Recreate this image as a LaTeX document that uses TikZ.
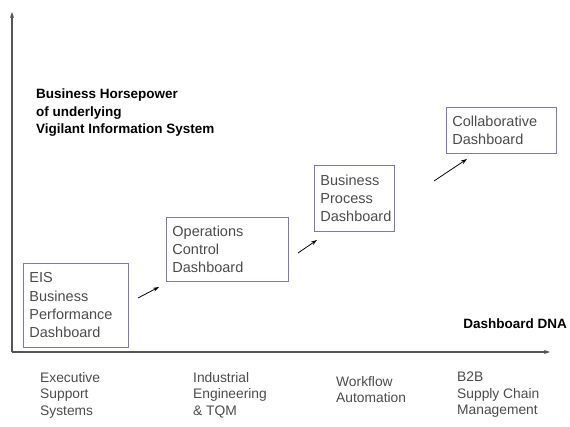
\documentclass[tikz,border=0pt]{standalone}
\usepackage{fontspec}
\setmainfont{Liberation Sans}
\usetikzlibrary{positioning,arrows.meta}

\definecolor{boxline}{RGB}{125,120,175}
\definecolor{txtgray}{RGB}{75,75,75}
\definecolor{axisgray}{RGB}{85,85,85}

\begin{document}
\begin{tikzpicture}[%
    x=1pt,
    y=-1pt,
    >={Stealth[length=6pt,width=4pt]},
    stage/.style={%
      draw=boxline,
      line width=0.9pt,
      anchor=north west,
      align=left,
      inner sep=6pt,
      text=txtgray,
      font=\fontsize{14.5}{18.3}\selectfont
    },
    axis/.style={%
      draw=axisgray,
      line width=1.1pt
    },
    step arrow/.style={%
      ->,
      line width=0.8pt
    },
    era/.style={%
      anchor=north west,
      align=left,
      inner sep=0pt,
      text=txtgray,
      font=\fontsize{13.8}{16.5}\selectfont
    },
    heading/.style={%
      inner sep=0pt,
      align=left,
      font=\bfseries\fontsize{13.5}{17.5}\selectfont
    }
  ]
    \useasboundingbox (0,0) rectangle (570,427);

    % axes
    \coordinate (origin) at (12,352);
    \coordinate (ytop)   at (12,12);
    \coordinate (xend)   at (550,352);
    \draw[axis,->] (origin) -- (ytop);
    \draw[axis,->] (origin) -- (xend);

    \node[heading,anchor=north west] (power) at (36,89)
      {Business Horsepower\\of underlying\\Vigilant Information System};
    \node[heading,anchor=north east] (dna) at (567,319) {Dashboard DNA};

    % dashboard stages
    \node[stage,minimum width=105,minimum height=84,text width=93]  (eis)    at (23,263)  {EIS\\Business\\Performance\\Dashboard};
    \node[stage,minimum width=122,minimum height=64,text width=110] (ops)    at (166,217) {Operations\\Control\\Dashboard};
    \node[stage,minimum width=80,minimum height=66,text width=68]   (bpd)    at (314,165) {Business\\Process\\Dashboard};
    \node[stage,minimum width=110,minimum height=46,text width=98]  (collab) at (446,107) {Collaborative\\Dashboard};

    % little arrows between the stages
    \coordinate (s1) at (138,298);  \coordinate (e1) at (159,287);
    \coordinate (s2) at (298,253);  \coordinate (e2) at (317,240);
    \coordinate (s3) at (434,181);  \coordinate (e3) at (467,159);
    \draw[step arrow] (s1) -- (e1);
    \draw[step arrow] (s2) -- (e2);
    \draw[step arrow] (s3) -- (e3);

    % eras under the x axis
    \node[era] (ess)  at (40,372)  {Executive\\Support\\Systems};
    \node[era] (ie)   at (193,372) {Industrial\\Engineering\\\& TQM};
    \node[era] (wf)   at (336,376) {Workflow\\Automation};
    \node[era] (b2b)  at (457,372) {B2B\\Supply Chain\\Management};
\end{tikzpicture}
\end{document}
